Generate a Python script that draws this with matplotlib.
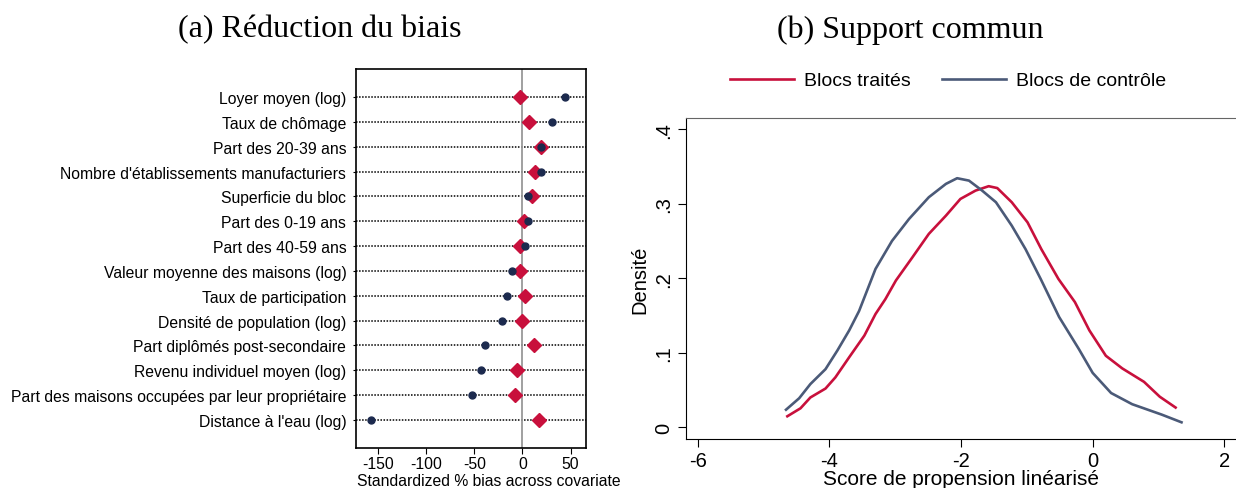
import numpy as np
import matplotlib.pyplot as plt
from matplotlib.transforms import Bbox, TransformedBbox

# panel (a): standardized % bias, unmatched vs matched
covariates = ["Loyer moyen (log)", "Taux de chômage", "Part des 20-39 ans",
              "Nombre d'établissements manufacturiers", "Superficie du bloc",
              "Part des 0-19 ans", "Part des 40-59 ans",
              "Valeur moyenne des maisons (log)", "Taux de participation",
              "Densité de population (log)", "Part diplômés post-secondaire",
              "Revenu individuel moyen (log)",
              "Part des maisons occupées par leur propriétaire",
              "Distance à l'eau (log)"]
bias_unmatched = [43.7, 30.5, 19.0, 18.8, 5.9, 5.9, 2.1,
                  -11.1, -16.0, -20.8, -38.9, -43.0, -52.0, -157.0]
bias_matched = [-2.8, 6.3, 19.0, 12.5, 9.7, 1.4, -2.8,
                -3.1, 2.8, -0.7, 11.5, -5.6, -7.6, 16.7]
bias_ticks = [-150, -100, -50, 0, 50]

# panel (b): kernel densities of linearised propensity score
score_ctrl = [-4.66, -4.46, -4.29, -4.06, -3.88, -3.70, -3.55, -3.30, -3.05,
              -2.79, -2.49, -2.23, -2.06, -1.88, -1.68, -1.47, -1.23, -1.02,
              -0.79, -0.51, -0.21, 0.0, 0.28, 0.60, 1.05, 1.35]
dens_ctrl = [0.0236, 0.039, 0.058, 0.078, 0.103, 0.130, 0.156, 0.2125, 0.250,
             0.2796, 0.3087, 0.3266, 0.3342, 0.331, 0.3176, 0.302, 0.2706, 0.239,
             0.199, 0.148, 0.105, 0.073, 0.046, 0.031, 0.017, 0.0067]
score_treat = [-4.64, -4.44, -4.29, -4.06, -3.91, -3.70, -3.47, -3.30, -3.15,
               -2.99, -2.74, -2.49, -2.23, -2.01, -1.78, -1.58, -1.45, -1.23,
               -0.99, -0.78, -0.52, -0.27, -0.05, 0.20, 0.45, 0.78, 1.02, 1.26]
dens_treat = [0.0148, 0.0255, 0.040, 0.052, 0.067, 0.094, 0.123, 0.152, 0.172,
              0.197, 0.228, 0.2595, 0.284, 0.3064, 0.3176, 0.3235, 0.321, 0.302,
              0.275, 0.239, 0.199, 0.168, 0.130, 0.096, 0.079, 0.061, 0.041, 0.0265]
score_ticks = [-6, -4, -2, 0, 2]
dens_ticks = [0, 0.1, 0.2, 0.3, 0.4]
dens_labels = ["0", ".1", ".2", ".3", ".4"]

RED = "#c8103c"
NAVY = "#1c2a4e"
SLATE = "#4b5a78"

plt.rcParams["font.family"] = ["Liberation Sans", "DejaVu Sans"]

W, H = 1236, 489
fig = plt.figure(figsize=(W/100, H/100), dpi=100)

# ---------- (a)
ax1 = fig.add_axes([356/W, 1-449/H, 230/W, 379/H])
n = len(covariates)
ypos = np.arange(n)
for y in ypos:
    ax1.axhline(y, color="black", lw=1.1, ls=(0, (1, 1)), zorder=1)
ax1.axvline(0, color="#999999", lw=1.3, zorder=2)
ax1.plot(bias_matched, ypos, ls="none", marker="D", ms=7, color=RED, zorder=3)
ax1.plot(bias_unmatched, ypos, ls="none", marker="o", ms=5, color=NAVY, zorder=4)
ax1.set_xlim(-173, 66)
ax1.set_ylim(n - 1 + 1.13, -1.13)
ax1.set_yticks(ypos)
ax1.set_yticklabels(covariates, fontsize=11.3)
ax1.set_xticks(bias_ticks)
ax1.set_xticklabels([str(t) for t in bias_ticks], fontsize=11.3)
ax1.tick_params(axis="y", length=2, pad=5)
ax1.tick_params(axis="x", length=4, pad=2)
for s in ax1.spines.values():
    s.set_linewidth(1.2)
xl = fig.text(357/W, 1-482/H, "Standardized % bias across covariates",
              fontsize=11.3, ha="left", va="center")
xl.set_clip_on(True)
xl.set_clip_box(TransformedBbox(Bbox([[0, 0], [620/W, 1]]), fig.transFigure))

# ---------- (b)
ax2 = fig.add_axes([686/W, 1-440/H, 560/W, 321/H])
ax2.plot(score_treat, dens_treat, color=RED, lw=1.9, label="Blocs traités")
ax2.plot(score_ctrl, dens_ctrl, color=SLATE, lw=1.9, label="Blocs de contrôle")
ax2.set_xlim(-6.18, 2.33)
ax2.set_ylim(-0.0157, 0.415)
ax2.set_xticks(score_ticks)
ax2.set_xticklabels([str(t) for t in score_ticks], fontsize=14.5)
ax2.set_yticks(dens_ticks)
ax2.set_yticklabels(dens_labels, fontsize=14.5, rotation=90, va="center")
ax2.tick_params(axis="both", length=6, pad=3)
ax2.spines["right"].set_visible(False)
ax2.spines["top"].set_color("#666666")
ax2.set_ylabel("Densité", fontsize=14.5, labelpad=4)
fig.text(961/W, 1-485/H, "Score de propension linéarisé", fontsize=15,
         ha="center", va="baseline")
ax2.legend(loc="lower center", bbox_to_anchor=(948/W, 1-108/H),
           bbox_transform=fig.transFigure, ncol=2, frameon=False, fontsize=14,
           handlelength=3.3, columnspacing=1.6, handletextpad=0.5)

# ---------- titles
fig.text(320/W, 1-30/H, "(a) Réduction du biais", family="Liberation Serif",
         fontsize=23, ha="center", va="center")
fig.text(910/W, 1-30/H, "(b) Support commun", family="Liberation Serif",
         fontsize=23, ha="center", va="center")

fig.savefig("out.png", dpi=100)
